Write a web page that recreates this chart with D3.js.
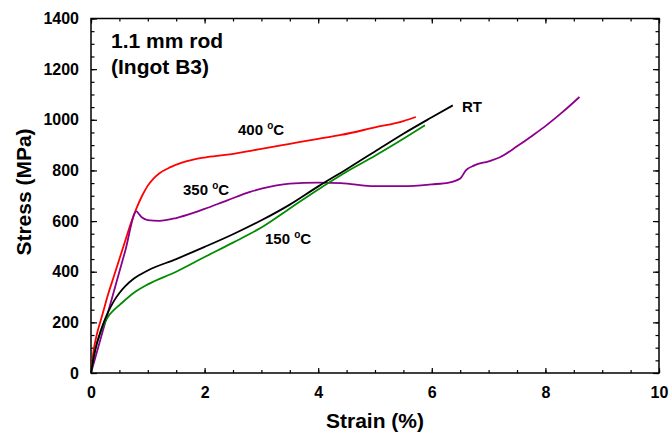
<!DOCTYPE html>
<html>
<head>
<meta charset="utf-8">
<script src="https://cdn.jsdelivr.net/npm/d3@7"></script>
<style>
  body { margin: 0; background: #fff; }
  text { font-family: "Liberation Sans", Arial, sans-serif; font-weight: bold; fill: #000; }
</style>
</head>
<body>
<svg id="chart" width="672" height="434"></svg>
<script>
// strain (%) / stress (MPa)
const rtStrain = [0, 0.05, 0.1, 0.15, 0.2, 0.3, 0.4, 0.5, 0.6, 0.75, 1.0, 1.5, 2.0, 2.5, 3.0, 3.5, 4.0, 4.5, 5.0, 5.5, 6.0, 6.37];
const rtStress = [0, 65, 115, 152, 185, 240, 283, 316, 342, 372, 405, 450, 498, 548, 603, 665, 737, 805, 875, 945, 1010, 1057];

const t150Strain = [0, 0.05, 0.1, 0.15, 0.2, 0.25, 0.3, 0.4, 0.5, 0.75, 1.0, 1.5, 2.0, 2.5, 3.0, 3.5, 4.0, 4.5, 5.0, 5.5, 5.88];
const t150Stress = [0, 65, 112, 148, 178, 202, 222, 248, 268, 316, 350, 400, 458, 515, 575, 650, 725, 795, 858, 925, 978];

const t350Strain = [0, 0.2, 0.4, 0.6, 0.8, 0.85, 0.9, 1.0, 1.2, 1.5, 1.8, 2.0, 2.4, 2.8, 3.0, 3.5, 4.0, 4.4, 5.0, 5.5, 6.0, 6.3, 6.5, 6.6, 6.75, 7.0, 7.2, 7.5, 7.8, 8.0, 8.3, 8.6];
const t350Stress = [0, 160, 320, 480, 638, 626, 614, 604, 601, 612, 632, 648, 682, 715, 728, 748, 752, 750, 738, 738, 745, 752, 768, 800, 820, 836, 852, 895, 942, 975, 1030, 1090];

const t400Strain = [0, 0.05, 0.1, 0.2, 0.3, 0.4, 0.5, 0.6, 0.7, 0.8, 0.9, 1.0, 1.1, 1.2, 1.4, 1.6, 1.8, 2.0, 2.4, 3.0, 3.5, 4.0, 4.4, 5.0, 5.5, 5.72];
const t400Stress = [0, 95, 150, 230, 310, 380, 450, 520, 590, 650, 700, 740, 768, 788, 813, 831, 843, 851, 862, 885, 905, 925, 940, 970, 995, 1011];

const xMajor = [0, 2, 4, 6, 8, 10];
const yMajor = [0, 200, 400, 600, 800, 1000, 1200, 1400];

const series = [
  { strain: t400Strain, stress: t400Stress, color: '#ff0000' },
  { strain: t350Strain, stress: t350Stress, color: '#8b008b' },
  { strain: t150Strain, stress: t150Stress, color: '#008c00' },
  { strain: rtStrain, stress: rtStress, color: '#000000' }
];

const pLeft = 91, pRight = 659, pTop = 18.5, pBottom = 373;

const x = d3.scaleLinear().domain([0, 10]).range([pLeft, pRight]);
const y = d3.scaleLinear().domain([0, 1400]).range([pBottom, pTop]);

const svg = d3.select('#chart');

const xMinor = d3.range(0, 10.01, 0.5);
const yMinor = d3.range(0, 1400.1, 50);

function styleAxis(g) {
  g.select('.domain').remove();
  g.selectAll('line').attr('stroke', '#000').attr('stroke-width', 1.2);
  g.selectAll('text').style('font-size', '16px');
}

// bottom
svg.append('g').attr('transform', `translate(0,${pBottom})`)
  .call(d3.axisBottom(x).tickValues(xMinor).tickSize(-3).tickSizeOuter(0).tickFormat(''))
  .call(styleAxis);
svg.append('g').attr('transform', `translate(0,${pBottom})`)
  .call(d3.axisBottom(x).tickValues(xMajor).tickSize(-5).tickSizeOuter(0).tickPadding(14).tickFormat(d3.format('d')))
  .call(styleAxis);
// top
svg.append('g').attr('transform', `translate(0,${pTop})`)
  .call(d3.axisTop(x).tickValues(xMinor).tickSize(-3).tickSizeOuter(0).tickFormat(''))
  .call(styleAxis);
svg.append('g').attr('transform', `translate(0,${pTop})`)
  .call(d3.axisTop(x).tickValues(xMajor).tickSize(-5).tickSizeOuter(0).tickFormat(''))
  .call(styleAxis);
// left
svg.append('g').attr('transform', `translate(${pLeft},0)`)
  .call(d3.axisLeft(y).tickValues(yMinor).tickSize(-3.5).tickSizeOuter(0).tickFormat(''))
  .call(styleAxis);
svg.append('g').attr('transform', `translate(${pLeft},0)`)
  .call(d3.axisLeft(y).tickValues(yMajor).tickSize(-6).tickSizeOuter(0).tickPadding(12).tickFormat(d3.format('d')))
  .call(styleAxis);
// right
svg.append('g').attr('transform', `translate(${pRight},0)`)
  .call(d3.axisRight(y).tickValues(yMinor).tickSize(-3.5).tickSizeOuter(0).tickFormat(''))
  .call(styleAxis);
svg.append('g').attr('transform', `translate(${pRight},0)`)
  .call(d3.axisRight(y).tickValues(yMajor).tickSize(-6).tickSizeOuter(0).tickFormat(''))
  .call(styleAxis);

// frame
svg.append('rect')
  .attr('x', pLeft).attr('y', pTop)
  .attr('width', pRight - pLeft).attr('height', pBottom - pTop)
  .attr('fill', 'none').attr('stroke', '#000').attr('stroke-width', 1.5);

// curves
const line = d3.line().curve(d3.curveMonotoneX);
series.forEach(s => {
  const pts = s.strain.map((d, i) => [x(d), y(s.stress[i])]);
  svg.append('path')
    .attr('d', line(pts))
    .attr('fill', 'none')
    .attr('stroke', s.color)
    .attr('stroke-width', 1.8);
});

// labels
function tempLabel(px, py, t) {
  const txt = svg.append('text').attr('x', px).attr('y', py).style('font-size', '15px');
  txt.append('tspan').text(t + ' ');
  txt.append('tspan').attr('dy', -6).style('font-size', '10px').text('o');
  txt.append('tspan').attr('dy', 6).text('C');
}
tempLabel(238, 135, '400');
tempLabel(183, 195, '350');
tempLabel(265, 244, '150');

svg.append('text').attr('x', 462).attr('y', 112).style('font-size', '15px').text('RT');

svg.append('text').attr('x', 111).attr('y', 48).style('font-size', '21px').text('1.1 mm rod');
svg.append('text').attr('x', 111).attr('y', 74).style('font-size', '21px').text('(Ingot B3)');

svg.append('text')
  .attr('x', (pLeft + pRight) / 2).attr('y', 428)
  .attr('text-anchor', 'middle')
  .style('font-size', '21px')
  .text('Strain (%)');

svg.append('text')
  .attr('transform', 'translate(31,192) rotate(-90)')
  .attr('text-anchor', 'middle')
  .style('font-size', '21px')
  .text('Stress (MPa)');
</script>
</body>
</html>
